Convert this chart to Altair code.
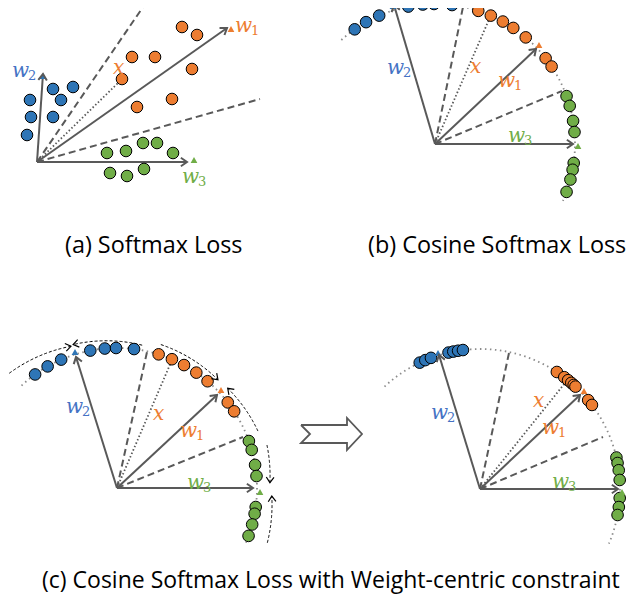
import numpy as np
import pandas as pd
import altair as alt

# ---------------- data (reference pixel coordinates, y down) ----------------
panels = ["a", "b", "c", "d"]
origin_x = [37, 435, 117, 480]
origin_y = [162, 144, 488, 489]
arc_radius = [0, 140, 140, 140]
arc_from = [0, 132, 133, 133]
arc_to = [0, -24, -23, -23]

w1_tip_x = [227, 536, 217, 580]
w1_tip_y = [28, 49, 395, 395]
w2_tip_x = [43, 394, 76, 439]
w2_tip_y = [74, 5, 357, 355]
w3_tip_x = [187, 573, 253, 618]
w3_tip_y = [162, 144, 488, 489]

w1_tri_x = [231, 539, 221, 584]
w1_tri_y = [29, 45, 390, 391]
w2_tri_x = [43, 393, 75, 438]
w2_tri_y = [76, 6, 352, 353]
w3_tri_x = [194, 578, 260, 622]
w3_tri_y = [160, 146, 492, 492]

dash1_x = [143, 463, 147, 509]
dash1_y = [7, 7, 352, 353]
dash2_x = [260, 562, 243, 603]
dash2_y = [99, 91, 437, 437]
xdir_x = [118, 491, 172, 565]
xdir_y = [83, 15, 360, 383]

# (a) free features
a_orange_x = [182, 197, 132, 155, 192, 122, 137, 172]
a_orange_y = [27, 35, 57, 57, 69, 79, 107, 99]
a_blue_x = [53, 73, 30, 61, 31, 53, 27]
a_blue_y = [89, 87, 100, 100, 117, 117, 135]
a_green_x = [107, 126, 143, 157, 173, 110, 127, 144]
a_green_y = [153, 151, 143, 143, 153, 173, 176, 169]

# (b),(c),(d) features on the hypersphere: angle in degrees
b_blue = [125, 119.5, 113.5, 101, 95, 90.4, 83]
b_orange = [72, 66.5, 61, 56, 49.6, 37.8, 33.6]
b_green = [20, 15.8, 9.5, 4.9, -7.8, -10.6, -14.7, -20]
c_blue = [125.8, 119.7, 113.5, 101, 95, 90.4, 83]
c_orange = [72.7, 66.9, 61.4, 55.5, 49.7, 37.7, 33.2]
c_green = [19.6, 15.8, 9.5, 4.9, -7.8, -10.6, -15.1, -20]
d_blue = [115.5, 113, 110.5, 103, 101, 99, 97]
d_orange = [56.7, 53, 51, 49.3, 48, 47, 39.4, 36.9]
d_green = [13, 10.7, 7.7, 3.7, -3.7, -7.4, -10.7]
feat_radius = 140

# (c) curved dashed arrows: start angle, end angle, start radius, end radius
curve_a0 = [135, 80, 73, 22, 16, -20]
curve_a1 = [108, 107, 47, 42, 2, -3]
curve_r0 = [158, 145, 150, 152, 156, 160]
curve_r1 = [149, 150, 148, 149, 153, 155]

# block arrow between (c) and (d)
block_x = [301, 347, 347, 362, 347, 347, 301, 310, 301]
block_y = [425, 425, 418, 434, 450, 443, 443, 434, 425]

# labels: left x, baseline y
w_lab_x = [235, 12, 182, 498, 387, 508, 180, 66, 187, 542, 431, 552]
w_lab_y = [32, 77, 183, 87, 74, 142, 437, 413, 489, 434, 419, 488]
w_lab_sub = ["1", "2", "3", "1", "2", "3", "1", "2", "3", "1", "2", "3"]
x_lab_x = [113, 470, 153, 533]
x_lab_y = [74, 73, 420, 407]

titles = ["(a) Softmax Loss", "(b) Cosine Softmax Loss",
          "(c) Cosine Softmax Loss with Weight-centric constraint"]
title_x = [65, 368, 42]
title_y = [253, 253, 588]
title_size = [23.4, 23.4, 23.0]

BLUE, ORANGE, GREEN = "#2e75b6", "#ed7d31", "#70ad47"
LBLUE = "#4472c4"
GRAY = "#595959"

# ---------------- build tables ----------------
paths = []
heads = []
pid = 0


def add_path(xs, ys, style, head=None):
    global pid
    for i, (xx, yy) in enumerate(zip(xs, ys)):
        paths.append({"id": pid, "o": i, "x": xx, "y": yy, "style": style})
    if head is not None:
        dx = xs[-1] - xs[-2]
        dy = ys[-1] - ys[-2]
        ang = float(np.degrees(np.arctan2(dy, dx))) % 360
        heads.append({"x": xs[-1], "y": ys[-1], "ang": ang, "kind": head})
    pid += 1


for k in range(4):
    ox, oy = origin_x[k], origin_y[k]
    if arc_radius[k] > 0:
        t = np.radians(np.linspace(arc_from[k], arc_to[k], 160))
        add_path(list(ox + arc_radius[k] * np.cos(t)), list(oy - arc_radius[k] * np.sin(t)), "circ")
    add_path([ox, dash1_x[k]], [oy, dash1_y[k]], "dash")
    add_path([ox, dash2_x[k]], [oy, dash2_y[k]], "dash")
    add_path([ox, xdir_x[k]], [oy, xdir_y[k]], "dotx")
    add_path([ox, w1_tip_x[k]], [oy, w1_tip_y[k]], "vec", "gray")
    add_path([ox, w2_tip_x[k]], [oy, w2_tip_y[k]], "vec", "gray")
    add_path([ox, w3_tip_x[k]], [oy, w3_tip_y[k]], "vec", "gray")

for a0, a1, r0, r1 in zip(curve_a0, curve_a1, curve_r0, curve_r1):
    t = np.linspace(0, 1, 60)
    ang = np.radians(a0 + (a1 - a0) * t)
    rr = r0 + (r1 - r0) * t
    add_path(list(origin_x[2] + rr * np.cos(ang)), list(origin_y[2] - rr * np.sin(ang)), "curv", "black")

add_path(block_x, block_y, "block")

paths = pd.DataFrame(paths)
heads = pd.DataFrame(heads)

pts = []
for xx, yy in zip(a_orange_x, a_orange_y):
    pts.append({"x": xx, "y": yy, "cls": "orange"})
for xx, yy in zip(a_blue_x, a_blue_y):
    pts.append({"x": xx, "y": yy, "cls": "blue"})
for xx, yy in zip(a_green_x, a_green_y):
    pts.append({"x": xx, "y": yy, "cls": "green"})
for k, groups in [(1, (b_blue, b_orange, b_green)), (2, (c_blue, c_orange, c_green)),
                  (3, (d_blue, d_orange, d_green))]:
    for cls, angs in zip(["blue", "orange", "green"], groups):
        for a in angs:
            t = np.radians(a)
            pts.append({"x": origin_x[k] + feat_radius * np.cos(t),
                        "y": origin_y[k] - feat_radius * np.sin(t), "cls": cls})
pts = pd.DataFrame(pts)

tris = []
for k in range(4):
    tris.append({"x": w1_tri_x[k], "y": w1_tri_y[k], "cls": "orange"})
    tris.append({"x": w2_tri_x[k], "y": w2_tri_y[k], "cls": "blue"})
    tris.append({"x": w3_tri_x[k], "y": w3_tri_y[k], "cls": "green"})
tris = pd.DataFrame(tris)

lab_color = {"1": ORANGE, "2": LBLUE, "3": GREEN}
wlabs = pd.DataFrame({"x": w_lab_x, "y": w_lab_y, "t": ["w"] * len(w_lab_x),
                      "c": [lab_color[s] for s in w_lab_sub]})
sublabs = pd.DataFrame({"x": [v + 16 for v in w_lab_x], "y": [v + 3 for v in w_lab_y],
                        "t": w_lab_sub, "c": [lab_color[s] for s in w_lab_sub]})
xlabs = pd.DataFrame({"x": x_lab_x, "y": x_lab_y, "t": ["x"] * 4, "c": [ORANGE] * 4})
tdf = pd.DataFrame({"x": title_x, "y": title_y, "t": titles, "fs": title_size})

# ---------------- chart ----------------
X = alt.X("x:Q", scale=alt.Scale(domain=[8, 630], nice=False, zero=False), axis=None)
Y = alt.Y("y:Q", scale=alt.Scale(domain=[8, 595], nice=False, zero=False, reverse=True), axis=None)
fill_scale = alt.Scale(domain=["blue", "orange", "green"], range=[BLUE, ORANGE, GREEN])
tri_scale = alt.Scale(domain=["blue", "orange", "green"], range=[LBLUE, ORANGE, GREEN])

base_p = alt.Chart(paths)


def line_layer(style, **kw):
    return base_p.transform_filter(alt.datum.style == style).mark_line(**kw).encode(
        x=X, y=Y, detail="id:N", order="o:Q")


layers = [
    line_layer("circ", color="#8c8c8c", strokeWidth=1.8, strokeDash=[1.5, 3.5]),
    line_layer("dash", color=GRAY, strokeWidth=2, strokeDash=[7, 4]),
    line_layer("dotx", color=GRAY, strokeWidth=1.8, strokeDash=[1.5, 2.2]),
    line_layer("curv", color="black", strokeWidth=1, strokeDash=[3, 2]),
    line_layer("vec", color=GRAY, strokeWidth=2),
    line_layer("block", color=GRAY, strokeWidth=1.8),
    alt.Chart(pts).mark_circle(size=135, stroke="black", strokeWidth=1, opacity=1).encode(
        x=X, y=Y, fill=alt.Fill("cls:N", scale=fill_scale, legend=None)),
    alt.Chart(tris).mark_point(shape="triangle-up", size=45, filled=True, opacity=1).encode(
        x=X, y=Y, fill=alt.Fill("cls:N", scale=tri_scale, legend=None), strokeOpacity=alt.value(0)),
    alt.Chart(heads).transform_filter(alt.datum.kind == "gray").mark_point(
        shape="M-1,-0.7L0,0L-1,0.7", size=150, filled=False, color=GRAY, strokeWidth=2, opacity=1
    ).encode(x=X, y=Y, angle=alt.Angle("ang:Q", scale=None)),
    alt.Chart(heads).transform_filter(alt.datum.kind == "black").mark_point(
        shape="M-1,-0.7L0,0L-1,0.7", size=120, filled=False, color="black", strokeWidth=1.2, opacity=1
    ).encode(x=X, y=Y, angle=alt.Angle("ang:Q", scale=None)),
    alt.Chart(wlabs).mark_text(align="left", baseline="alphabetic", font="DejaVu Serif",
                               fontStyle="italic", fontSize=20).encode(
        x=X, y=Y, text="t:N", color=alt.Color("c:N", scale=None)),
    alt.Chart(sublabs).mark_text(align="left", baseline="alphabetic", font="DejaVu Serif",
                                 fontSize=13).encode(
        x=X, y=Y, text="t:N", color=alt.Color("c:N", scale=None)),
    alt.Chart(xlabs).mark_text(align="left", baseline="alphabetic", font="DejaVu Serif",
                               fontStyle="italic", fontSize=20).encode(
        x=X, y=Y, text="t:N", color=alt.Color("c:N", scale=None)),
    alt.Chart(tdf).mark_text(align="left", baseline="alphabetic", font="Open Sans",
                             color="black").encode(
        x=X, y=Y, text="t:N", size=alt.Size("fs:Q", scale=None, legend=None)),
]

chart = alt.layer(*layers).properties(
    width=622, height=587, padding=0, autosize=alt.AutoSizeParams(type="none")
).configure_view(stroke=None)

chart.save("out.html", embed_options={"renderer": "svg", "actions": False})
